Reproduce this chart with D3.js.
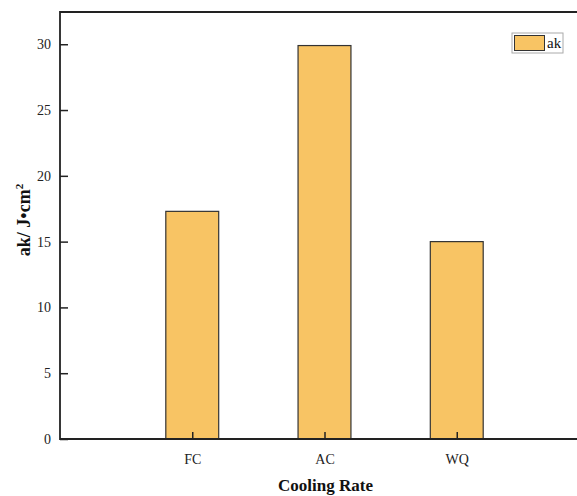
<!DOCTYPE html>
<html>
<head>
<meta charset="utf-8">
<script src="https://cdn.jsdelivr.net/npm/d3@7"></script>
<style>
  body { margin: 0; background: #fff; }
  svg { display: block; font-family: "Liberation Serif", "DejaVu Serif", serif; }
</style>
</head>
<body>
<svg id="chart" width="577" height="496"></svg>
<script>
// Impact toughness vs cooling rate
const categories = ['FC', 'AC', 'WQ'];
const akValues = [17.3, 29.9, 15.0];
const yTicks = [0, 5, 10, 15, 20, 25, 30];

const serif = '"Liberation Serif", "DejaVu Serif", serif';
const svg = d3.select('#chart');
const width = 577, height = 496;
const margin = { top: 12, left: 60, bottom: 57 };
const plotBottom = height - margin.bottom;

// categories sit at 1, 2, 3; frame runs past the right edge of the picture
const x = d3.scaleLinear().domain([0, 4]).range([margin.left, 589]);
const y = d3.scaleLinear().domain([0, 32.45]).range([plotBottom, margin.top]);
const barW = x(0.4) - x(0);

// bars
svg.selectAll('.bar')
    .data(akValues)
    .enter()
    .append('rect')
    .attr('class', 'bar')
    .attr('x', (d, i) => x(i + 1) - barW / 2)
    .attr('y', d => y(d))
    .attr('width', barW)
    .attr('height', d => plotBottom - y(d))
    .attr('fill', '#F8C464')
    .attr('stroke', '#333')
    .attr('stroke-width', 1.2);

// y axis, ticks pointing inward
const yAxis = svg.append('g')
    .attr('transform', `translate(${margin.left},0)`)
    .call(d3.axisRight(y).tickValues(yTicks).tickSize(8).tickFormat(d3.format('d')))
    .attr('font-family', serif);
yAxis.select('.domain').remove();
yAxis.selectAll('line').attr('stroke', '#222').attr('stroke-width', 1.5);
yAxis.selectAll('text')
    .attr('x', -9)
    .attr('text-anchor', 'end')
    .attr('fill', '#222')
    .attr('font-size', '14px');

// x axis, ticks pointing up into the plot
const xAxis = svg.append('g')
    .attr('transform', `translate(0,${plotBottom})`)
    .call(d3.axisTop(x).tickValues([1, 2, 3]).tickSize(7).tickFormat(d => categories[d - 1]))
    .attr('font-family', serif);
xAxis.select('.domain').remove();
xAxis.selectAll('line').attr('stroke', '#222').attr('stroke-width', 1.5);
xAxis.selectAll('text')
    .attr('y', 25)
    .attr('dy', 0)
    .attr('fill', '#222')
    .attr('font-size', '14px');

// frame (left, top, bottom)
svg.append('path')
    .attr('d', `M${x(4)},${margin.top}H${margin.left}V${plotBottom}H${x(4)}`)
    .attr('fill', 'none')
    .attr('stroke', '#222')
    .attr('stroke-width', 1.8);

// axis titles
svg.append('text')
    .attr('x', (margin.left + width) / 2 + 7)
    .attr('y', 491)
    .attr('text-anchor', 'middle')
    .attr('font-size', '17px')
    .attr('font-weight', 'bold')
    .attr('fill', '#111')
    .text('Cooling Rate');

const yTitle = svg.append('text')
    .attr('transform', `translate(30,220) rotate(-90)`)
    .attr('text-anchor', 'middle')
    .attr('font-size', '18px')
    .attr('font-weight', 'bold')
    .attr('fill', '#111');
yTitle.append('tspan').text('ak/ J\u2022cm');
yTitle.append('tspan').attr('font-size', '11px').attr('dy', -7).text('2');

// legend
const legend = svg.append('g').attr('transform', 'translate(512,33)');
legend.append('rect')
    .attr('width', 51).attr('height', 20)
    .attr('fill', '#fff').attr('stroke', '#aaa').attr('stroke-width', 1);
legend.append('rect')
    .attr('x', 2.5).attr('y', 2.5).attr('width', 30).attr('height', 15)
    .attr('fill', '#F8C464').attr('stroke', '#333').attr('stroke-width', 1);
legend.append('text')
    .attr('x', 35).attr('y', 15)
    .attr('font-size', '15px').attr('fill', '#111')
    .text('ak');
</script>
</body>
</html>
